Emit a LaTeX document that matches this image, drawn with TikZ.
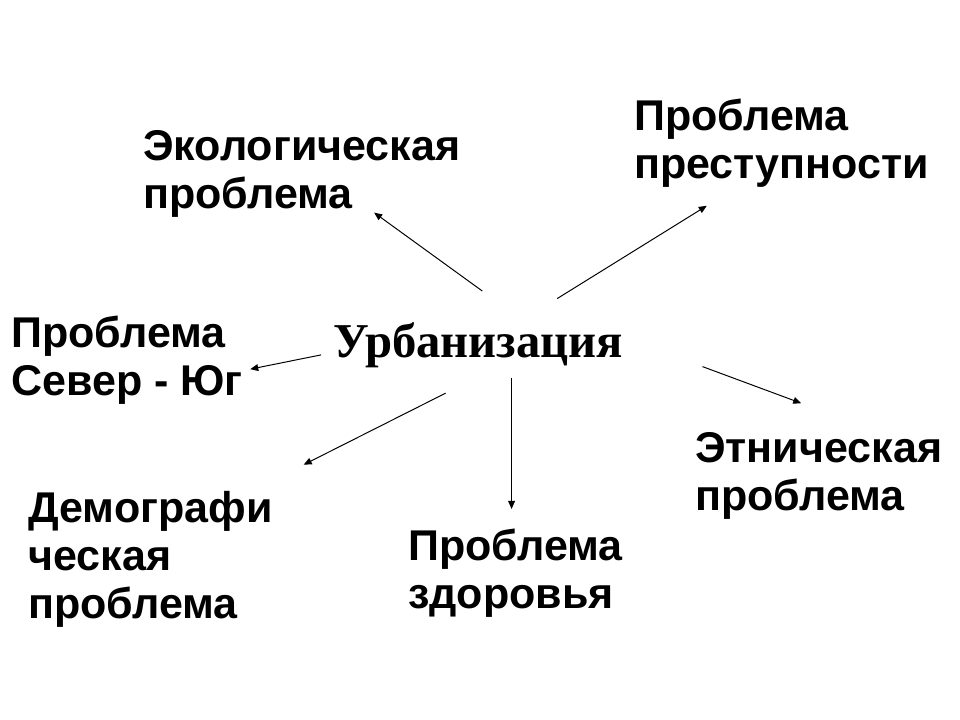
\documentclass[tikz,border=0pt]{standalone}
\usepackage{fontspec}
\setmainfont{Liberation Sans}
\newfontfamily\urbfont{Liberation Serif}
\usetikzlibrary{arrows.meta,positioning}

\begin{document}
\begin{tikzpicture}[x=0.025cm,y=-0.025cm,>={Triangle[length=0.2cm,width=0.17cm]}]
\tikzstyle{problem}=[anchor=north west,inner sep=0pt,align=left,font=\fontsize{30.6pt}{34pt}\selectfont\bfseries]
\tikzstyle{central}=[anchor=north west,inner sep=0pt,font=\fontsize{34.6pt}{40pt}\selectfont\urbfont\bfseries]
\tikzstyle{link}=[->,line width=0.7pt]
\useasboundingbox[fill=white] (0,0) rectangle (960,720);
% central node
\node[central] (urb) at (333,322) {Урбанизация};
% problems round it
\node[problem] (eco) at (143,130) {Экологическая\\проблема};
\node[problem] (crime) at (634,99) {Проблема\\преступности};
\node[problem] (ns) at (11,316) {Проблема\\Север - Юг};
\node[problem] (demo) at (28,491) {Демографи\\ческая\\проблема};
\node[problem] (health) at (408,529) {Проблема\\здоровья};
\node[problem] (ethnic) at (695,432) {Этническая\\проблема};
% arrows
\draw[link,shorten <=1.32cm,shorten >=-0.2cm] (urb.26) -- (eco.-29);
\draw[link,shorten <=1.11cm,shorten >=0.85cm] (urb.29) -- (crime.-136);
\draw[link,shorten <=0.305cm,shorten >=0.18cm] (urb.183) -- (ns.-5);
\draw[link,shorten <=1.41cm,shorten >=1.46cm] (urb.-52) -- (demo.34);
\draw[link,shorten <=0.25cm,shorten >=0.5cm] (urb.south -| health.95) -- (health.95);
\draw[link,shorten <=2.11cm,shorten >=2.07cm] (urb.3) -- (ethnic.36);
\end{tikzpicture}
\end{document}
